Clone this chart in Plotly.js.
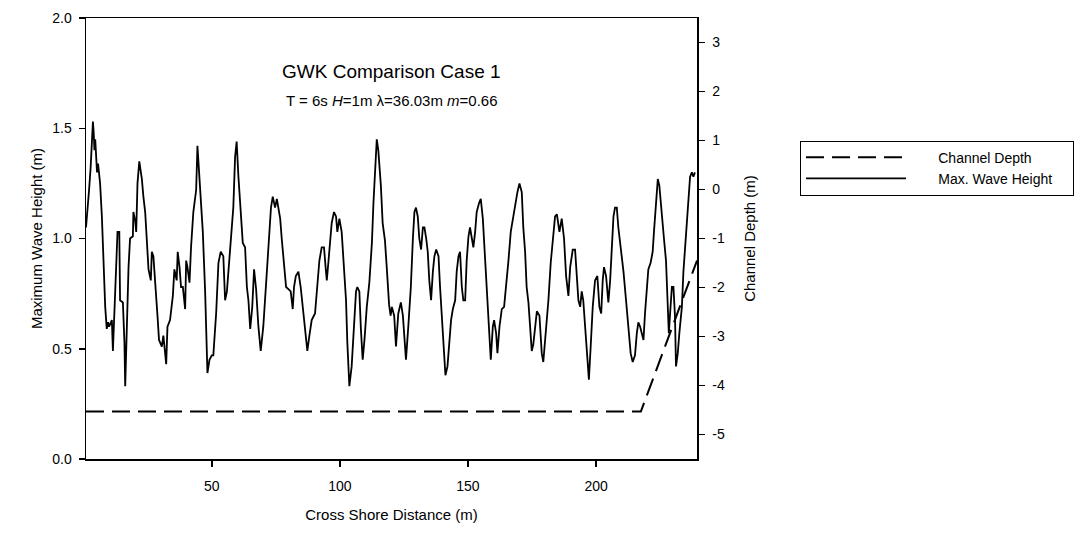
<!DOCTYPE html>
<html>
<head>
<meta charset="utf-8">
<script src="https://cdn.plot.ly/plotly-3.0.1.min.js"></script>
<style>
html,body{margin:0;padding:0;background:#fff;}
#chart{width:1090px;height:536px;}
</style>
</head>
<body>
<div id="chart"></div>
<script>
// Cross shore distance (m) and maximum wave height (m)
const distance = [0.9,1.5,2.1,2.7,3.2,3.6,3.9,4.2,4.5,4.8,5.2,5.6,6.4,7.1,7.6,8.0,8.4,9.0,9.5,9.9,11.0,11.4,11.7,12.3,13.2,13.9,14.2,15.3,15.9,16.2,16.6,17.5,18.1,19.2,19.4,20.1,20.5,21.0,21.7,22.7,23.3,24.0,24.6,25.3,26.2,26.6,27.2,27.9,28.8,29.4,30.5,31.1,32.2,32.7,33.7,34.8,35.4,36.3,36.7,37.4,38.0,38.7,39.6,40.0,40.5,41.3,41.9,42.8,43.9,44.4,45.0,45.7,46.5,47.4,48.3,49.1,50.0,50.6,51.7,52.6,53.5,54.5,55.2,55.9,56.5,57.1,57.8,58.4,59.1,59.7,60.4,61.3,62.1,63.0,63.7,64.3,65.0,65.8,66.5,67.3,68.2,69.1,70.1,71.5,72.5,73.1,73.8,74.7,75.4,76.0,76.7,77.3,78.2,79.0,79.9,80.8,81.6,82.1,82.8,83.8,84.7,85.5,86.4,87.3,88.1,89.0,90.3,91.2,92.0,92.9,93.8,94.5,94.9,95.5,96.2,96.8,97.7,98.5,99.0,99.8,100.7,101.6,102.4,102.9,103.7,104.6,105.5,106.3,106.8,107.6,108.2,108.9,109.6,110.5,111.5,112.5,113.1,113.7,114.4,115.0,116.0,116.7,117.6,118.4,119.2,119.8,120.3,121.2,121.9,122.8,123.8,124.6,125.1,125.8,126.7,127.7,128.5,129.1,129.7,130.4,131.0,131.7,132.4,133.0,133.7,134.3,134.9,135.6,136.3,136.9,137.6,138.5,139.1,139.8,140.4,141.2,142.0,142.7,143.4,144.1,145.0,145.6,146.3,146.9,147.6,148.2,148.9,149.5,150.2,150.8,151.5,152.1,152.8,153.4,154.3,155.0,155.8,156.4,157.1,157.6,158.3,158.9,159.7,160.2,161.0,161.5,162.3,163.2,164.1,164.9,165.8,166.7,167.5,168.4,169.3,170.1,171.0,171.6,172.3,172.9,173.6,174.2,174.9,175.5,176.2,176.9,177.9,178.8,179.4,180.5,181.4,182.3,183.1,184.0,184.7,185.7,186.6,187.5,188.3,189.2,189.9,190.9,191.8,192.5,193.1,193.8,194.4,195.0,195.7,196.6,197.2,197.9,198.7,199.6,200.5,201.3,202.0,202.6,203.1,203.9,204.8,205.5,206.1,206.8,207.4,208.1,208.7,209.6,210.7,211.7,212.6,213.5,214.3,215.2,215.9,216.5,217.2,217.8,218.5,219.1,219.8,220.4,221.3,222.1,222.6,223.4,224.1,224.7,225.6,226.5,227.3,228.0,228.4,228.9,229.6,230.2,230.8,231.2,231.9,232.5,233.5,234.1,234.7,235.4,236.0,236.7,237.4,238.0,238.6];
const waveHeight = [1.05,1.12,1.22,1.32,1.45,1.53,1.48,1.40,1.45,1.36,1.30,1.34,1.25,1.10,0.95,0.80,0.69,0.59,0.62,0.60,0.63,0.49,0.57,0.78,1.03,1.03,0.72,0.71,0.53,0.33,0.54,0.87,1.00,1.01,1.12,1.08,1.03,1.25,1.35,1.27,1.19,1.12,1.00,0.86,0.81,0.94,0.92,0.78,0.65,0.54,0.51,0.56,0.43,0.60,0.63,0.74,0.86,0.81,0.94,0.87,0.78,0.78,0.68,0.90,0.87,0.80,0.96,1.12,1.22,1.42,1.30,1.18,1.03,0.76,0.39,0.45,0.47,0.47,0.66,0.89,0.94,0.92,0.72,0.76,0.85,0.94,1.02,1.14,1.37,1.44,1.28,1.10,0.98,0.96,0.78,0.72,0.59,0.69,0.86,0.77,0.60,0.49,0.60,0.85,1.03,1.14,1.19,1.14,1.18,1.14,1.09,1.00,0.87,0.78,0.77,0.76,0.68,0.78,0.83,0.85,0.78,0.69,0.57,0.49,0.56,0.63,0.66,0.78,0.90,0.96,0.96,0.86,0.81,0.89,1.01,1.07,1.12,1.10,1.03,1.09,1.03,0.87,0.72,0.53,0.33,0.42,0.59,0.76,0.78,0.76,0.59,0.45,0.54,0.69,0.80,0.98,1.16,1.33,1.45,1.40,1.24,1.07,0.99,0.85,0.70,0.65,0.69,0.65,0.51,0.66,0.71,0.65,0.57,0.45,0.60,0.78,1.00,1.12,1.14,1.10,1.00,0.95,1.05,1.05,1.00,0.94,0.81,0.72,0.85,0.92,0.95,0.92,0.78,0.66,0.54,0.38,0.42,0.54,0.63,0.68,0.72,0.85,0.92,0.94,0.78,0.72,0.72,0.90,1.01,1.05,1.00,0.96,1.03,1.12,1.16,1.18,1.09,0.96,0.85,0.69,0.54,0.45,0.60,0.63,0.57,0.48,0.60,0.68,0.69,0.78,0.90,1.03,1.09,1.14,1.21,1.25,1.21,1.05,0.94,0.78,0.71,0.61,0.49,0.52,0.60,0.67,0.65,0.48,0.44,0.59,0.72,0.89,1.00,1.10,1.11,1.03,1.09,1.00,0.83,0.74,0.87,0.95,0.95,0.81,0.72,0.69,0.76,0.72,0.59,0.42,0.36,0.51,0.69,0.81,0.83,0.69,0.66,0.81,0.87,0.83,0.71,0.81,0.98,1.10,1.14,1.14,1.05,0.96,0.85,0.72,0.60,0.48,0.44,0.47,0.57,0.62,0.60,0.57,0.54,0.66,0.77,0.86,0.89,0.94,1.03,1.18,1.27,1.24,1.10,1.00,0.90,0.72,0.57,0.66,0.78,0.78,0.65,0.42,0.48,0.57,0.69,0.85,0.95,1.05,1.14,1.28,1.30,1.28,1.30];

// Channel depth (m)
const depthDistance = [0.9, 217.5, 239.4];
const channelDepth = [-4.53, -4.53, -1.45];

const seriesNames = ['Channel Depth', 'Max. Wave Height'];
const xTicks = [50, 100, 150, 200];
const yTicks = [0.0, 0.5, 1.0, 1.5, 2.0];
const y2Ticks = [-5, -4, -3, -2, -1, 0, 1, 2, 3];

const FONT = 'Liberation Sans, Arial, sans-serif';
const PADL = '\u00a0'.repeat(7), PADR = '\u00a0'.repeat(4);

const traces = [
  {
    x: depthDistance, y: channelDepth, yaxis: 'y2',
    type: 'scatter', mode: 'lines', name: PADL + seriesNames[0] + PADR,
    line: {color: '#000', width: 2, dash: '18px,8px'}
  },
  {
    x: distance, y: waveHeight,
    type: 'scatter', mode: 'lines', name: PADL + seriesNames[1] + PADR,
    line: {color: '#000', width: 1.8}
  }
];

const layout = {
  width: 1090, height: 536,
  margin: {l: 86, r: 393, t: 18, b: 77, pad: 0},
  paper_bgcolor: '#fff', plot_bgcolor: '#fff',
  font: {family: FONT, color: '#000', size: 14},
  showlegend: true,
  legend: {
    x: 1.1686, y: 0.722, xanchor: 'left', yanchor: 'top',
    bordercolor: '#000', borderwidth: 1, bgcolor: '#fff',
    font: {family: FONT, size: 14, color: '#000'},
    itemwidth: 100, tracegroupgap: 0
  },
  xaxis: {
    range: [0.9, 239.4], tickvals: xTicks, ticktext: xTicks.map(String),
    showgrid: false, zeroline: false,
    showline: true, linecolor: '#000', linewidth: 1.5, mirror: true,
    ticks: 'outside', ticklen: 6, tickwidth: 1.5, tickcolor: '#000',
    ticklabelstandoff: 8,
    tickfont: {family: FONT, size: 14},
    title: {text: 'Cross Shore Distance (m)', font: {family: FONT, size: 15}, standoff: 16}
  },
  yaxis: {
    range: [0, 2], tickvals: yTicks, ticktext: yTicks.map(v => v.toFixed(1)),
    showgrid: false, zeroline: false,
    showline: true, linecolor: '#000', linewidth: 1.5,
    ticks: 'outside', ticklen: 6, tickwidth: 1.5, tickcolor: '#000',
    ticklabelstandoff: 4,
    tickfont: {family: FONT, size: 14},
    title: {text: 'Maximum Wave Height (m)', font: {family: FONT, size: 15}, standoff: 6}
  },
  yaxis2: {
    range: [-5.5, 3.5], overlaying: 'y', side: 'right',
    tickvals: y2Ticks, ticktext: y2Ticks.map(String),
    showgrid: false, zeroline: false,
    showline: true, linecolor: '#000', linewidth: 1.5,
    ticks: 'outside', ticklen: 6, tickwidth: 1.5, tickcolor: '#000',
    ticklabelstandoff: 5,
    tickfont: {family: FONT, size: 14},
    title: {text: 'Channel Depth (m)', font: {family: FONT, size: 15}, standoff: 20}
  },
  annotations: [
    {xref: 'paper', yref: 'paper', x: 0.5, y: 0.878, xanchor: 'center', yanchor: 'middle',
     text: 'GWK Comparison Case 1', showarrow: false, font: {family: FONT, size: 19}},
    {xref: 'paper', yref: 'paper', x: 0.5, y: 0.812, xanchor: 'center', yanchor: 'middle',
     text: 'T = 6s <i>H</i>=1m λ=36.03m <i>m</i>=0.66', showarrow: false, font: {family: FONT, size: 15}}
  ]
};

Plotly.newPlot('chart', traces, layout, {staticPlot: true, displayModeBar: false});
</script>
</body>
</html>
